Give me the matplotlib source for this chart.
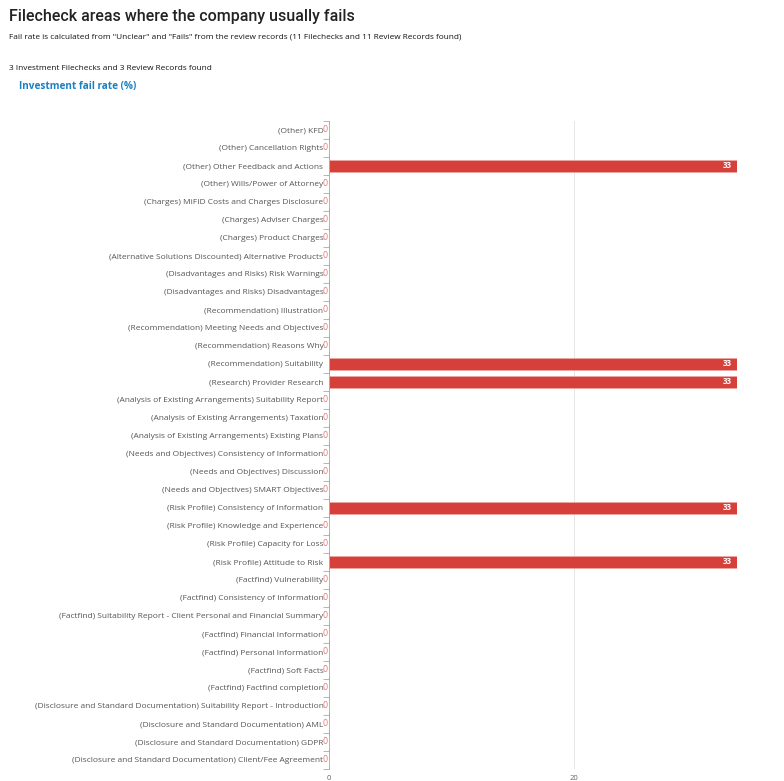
import matplotlib
matplotlib.use("Agg")
import matplotlib.pyplot as plt
import numpy as np

categories = [
    "(Other) KFD",
    "(Other) Cancellation Rights",
    "(Other) Other Feedback and Actions",
    "(Other) Wills/Power of Attorney",
    "(Charges) MiFID Costs and Charges Disclosure",
    "(Charges) Adviser Charges",
    "(Charges) Product Charges",
    "(Alternative Solutions Discounted) Alternative Products",
    "(Disadvantages and Risks) Risk Warnings",
    "(Disadvantages and Risks) Disadvantages",
    "(Recommendation) Illustration",
    "(Recommendation) Meeting Needs and Objectives",
    "(Recommendation) Reasons Why",
    "(Recommendation) Suitability",
    "(Research) Provider Research",
    "(Analysis of Existing Arrangements) Suitability Report",
    "(Analysis of Existing Arrangements) Taxation",
    "(Analysis of Existing Arrangements) Existing Plans",
    "(Needs and Objectives) Consistency of Information",
    "(Needs and Objectives) Discussion",
    "(Needs and Objectives) SMART Objectives",
    "(Risk Profile) Consistency of Information",
    "(Risk Profile) Knowledge and Experience",
    "(Risk Profile) Capacity for Loss",
    "(Risk Profile) Attitude to Risk",
    "(Factfind) Vulnerability",
    "(Factfind) Consistency of Information",
    "(Factfind) Suitability Report - Client Personal and Financial Summary",
    "(Factfind) Financial Information",
    "(Factfind) Personal Information",
    "(Factfind) Soft Facts",
    "(Factfind) Factfind completion",
    "(Disclosure and Standard Documentation) Suitability Report - Introduction",
    "(Disclosure and Standard Documentation) AML",
    "(Disclosure and Standard Documentation) GDPR",
    "(Disclosure and Standard Documentation) Client/Fee Agreement",
]
fail_rate = [0, 0, 33.33, 0, 0, 0, 0, 0, 0, 0, 0, 0, 0, 33.33, 33.33, 0, 0, 0,
             0, 0, 0, 33.33, 0, 0, 33.33, 0, 0, 0, 0, 0, 0, 0, 0, 0, 0, 0]
x_ticks = [0, 20]

plt.rcParams['font.family'] = ['Open Sans', 'DejaVu Sans']

fig = plt.figure(figsize=(7.84, 7.81), dpi=100)
fig.text(9/784, 1 - 16/781, "Filecheck areas where the company usually fails",
         fontsize=11.5, color="#222222", va="center", ha="left",
         family=['Roboto', 'DejaVu Sans'], fontweight="medium")
fig.text(9/784, 1 - 37/781,
         'Fail rate is calculated from "Unclear" and "Fails" from the review records (11 Filechecks and 11 Review Records found)',
         fontsize=5.95, color="#111111", va="center", ha="left")
fig.text(9/784, 1 - 69/781, "3 Investment Filechecks and 3 Review Records found",
         fontsize=5.98, color="#111111", va="center", ha="left")
fig.text(19/784, 1 - 86/781, "Investment fail rate (%)",
         fontsize=7.2, color="#1a80c4", fontweight="bold", va="center", ha="left")

ax = fig.add_axes([329/784, 1 - 769/781, (737 - 329)/784, (769 - 121)/781])
y = np.arange(len(categories))
ax.barh(y, fail_rate, height=0.72, color="#d6403a", edgecolor="#f0a8a5", linewidth=0.5, zorder=3)
ax.set_ylim(len(categories) - 0.5, -0.5)
ax.set_xlim(0, 33.33)
ax.set_xticks(x_ticks)
ax.set_xticklabels([str(t) for t in x_ticks])
ax.set_yticks(y)
ax.set_yticklabels(categories)
ax.set_yticks(np.arange(len(categories) + 1) - 0.5, minor=True)
ax.tick_params(axis='y', which='major', length=0, pad=4, labelsize=6.0, labelcolor="#555555")
ax.tick_params(axis='y', which='minor', length=4, width=0.6, color="#aaaaaa")
ax.tick_params(axis='x', length=0, pad=4, labelsize=5.5, labelcolor="#666666")
ax.grid(axis='x', color="#e6e6e6", linewidth=0.7, zorder=0)
for s in ["top", "right", "bottom"]:
    ax.spines[s].set_visible(False)
ax.spines["left"].set_color("#aaaaaa")
ax.spines["left"].set_linewidth(0.7)

for yi, v in zip(y, fail_rate):
    if v > 0:
        ax.annotate(f"{v:.0f}", xy=(v, yi), xytext=(-4, 0), textcoords="offset points",
                    ha="right", va="center", fontsize=5.8, fontweight="bold",
                    color="white", zorder=4)
    else:
        ax.annotate("0", xy=(0, yi), xytext=(-1, 0), textcoords="offset points",
                    ha="right", va="center", fontsize=6.3, color="#e07a75", zorder=4,
                    annotation_clip=False)

fig.savefig("out.png", dpi=100, facecolor="white")
